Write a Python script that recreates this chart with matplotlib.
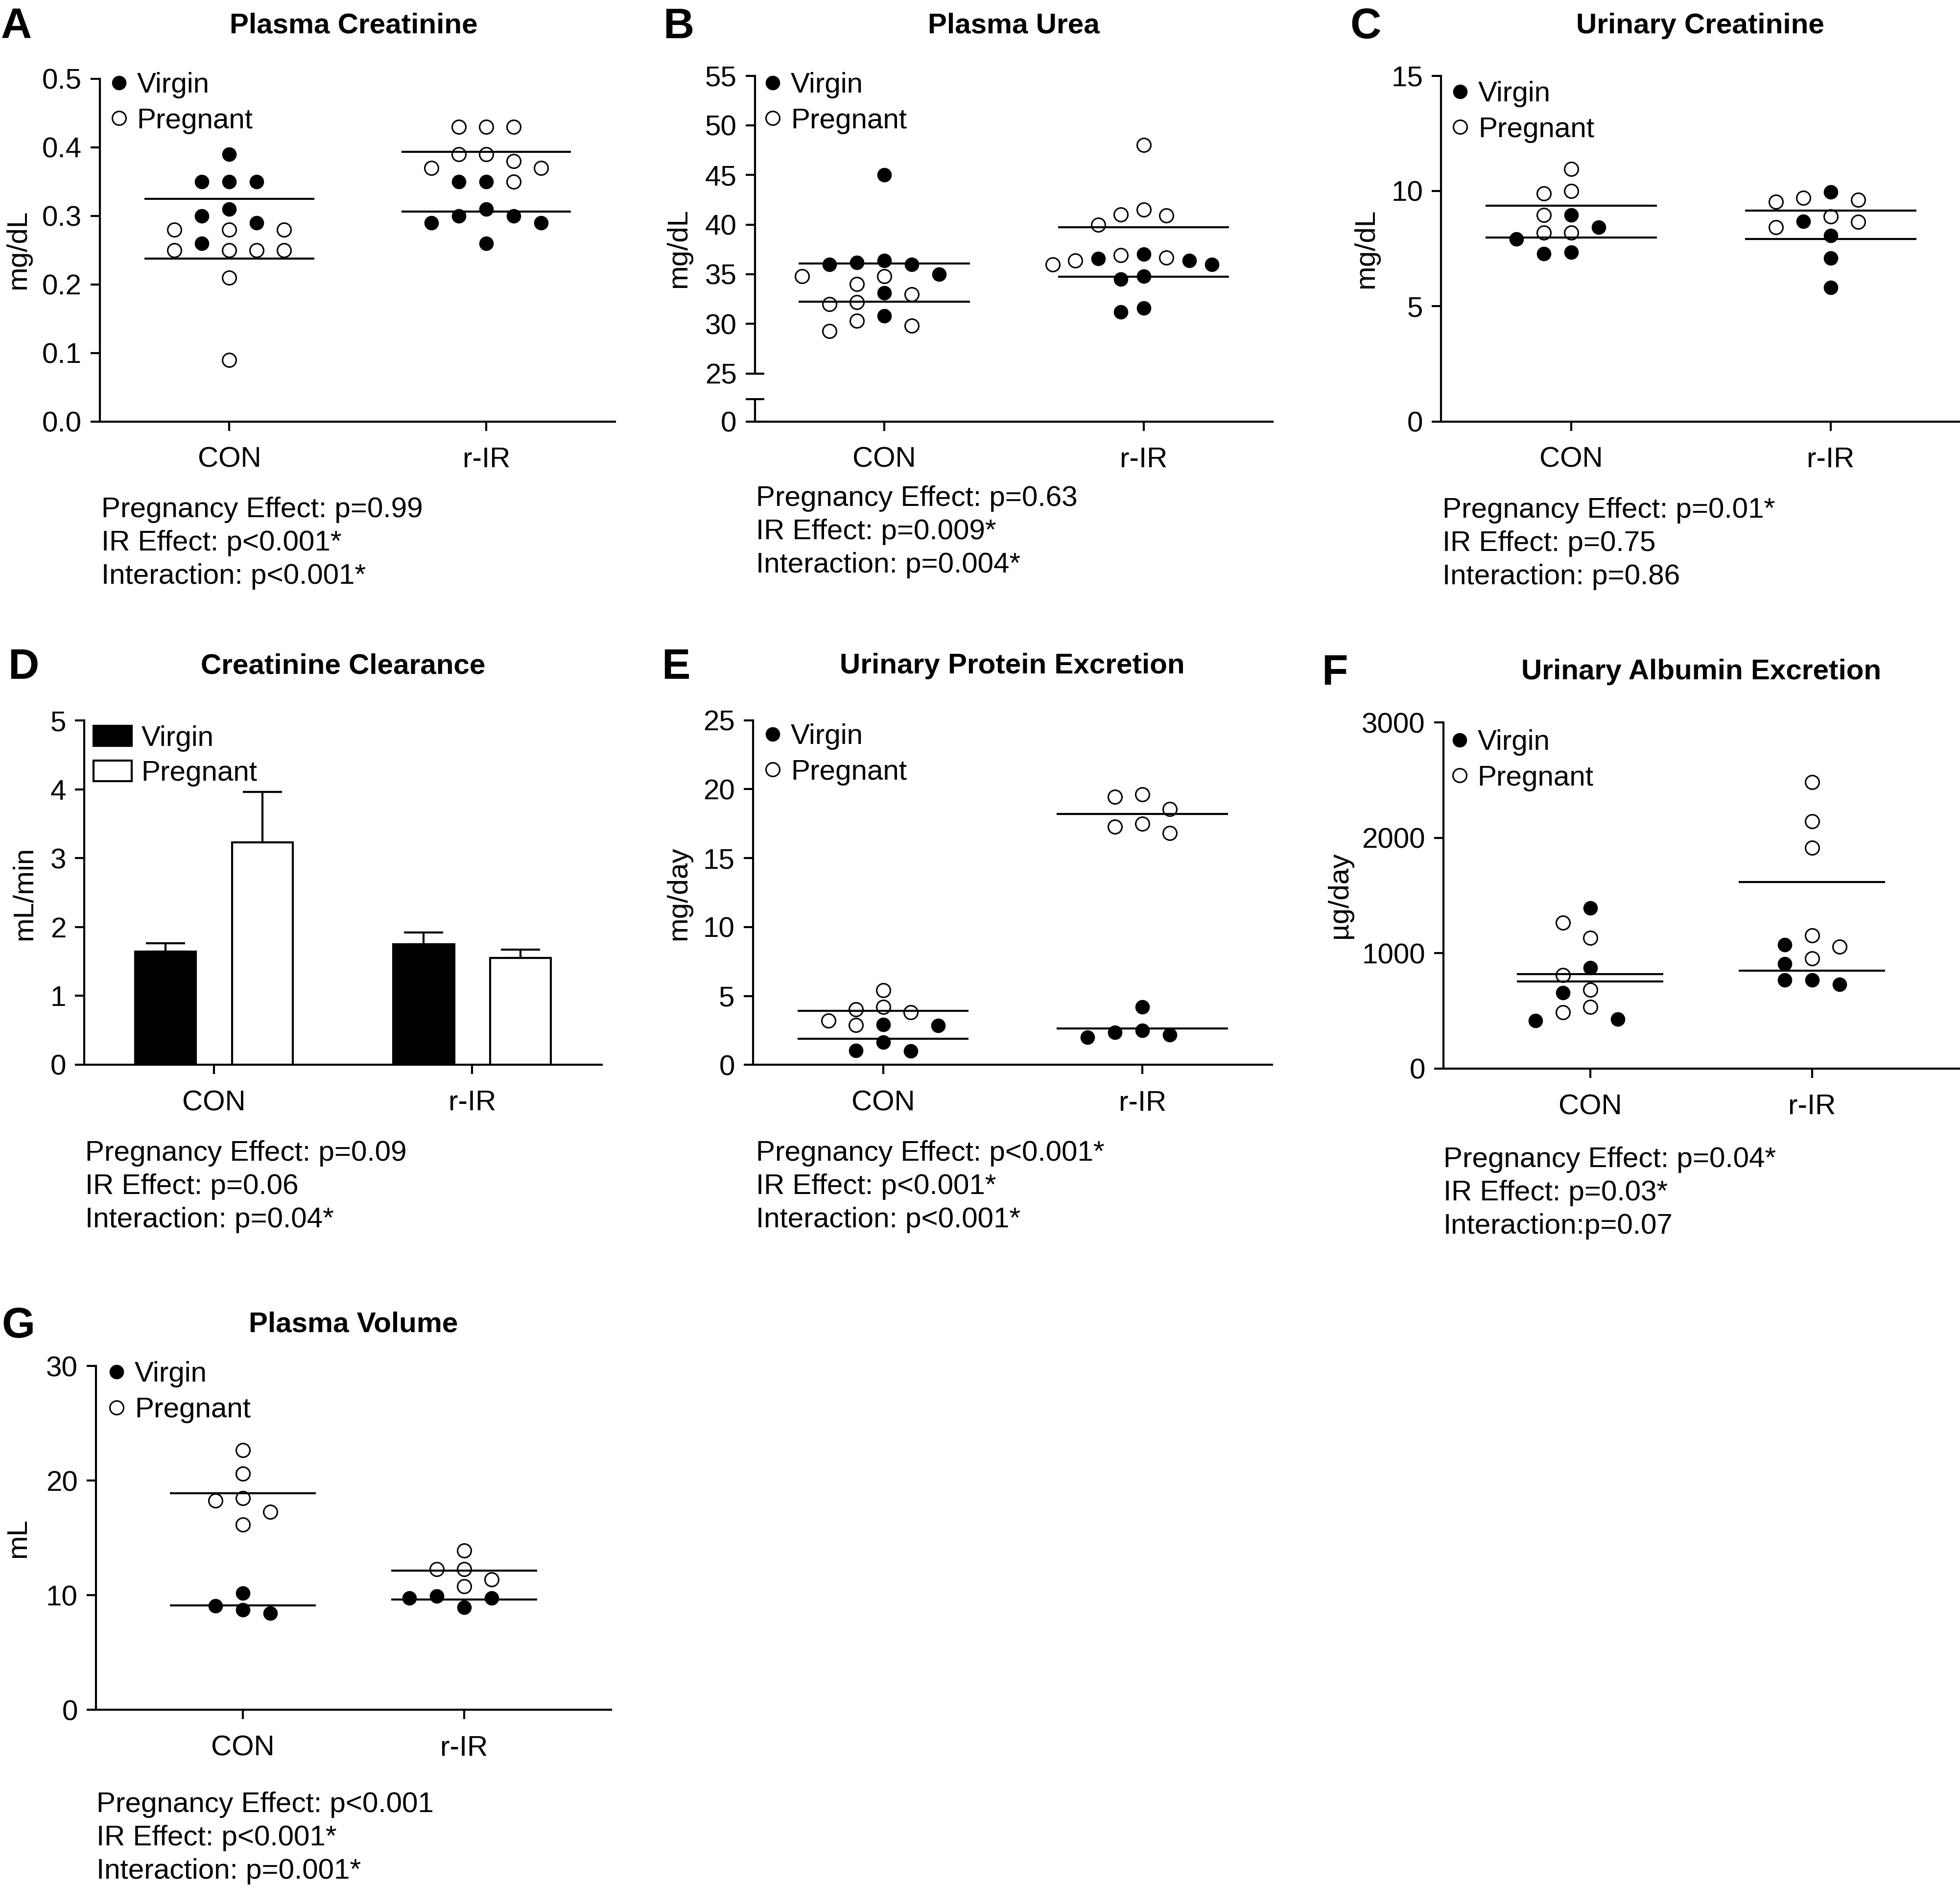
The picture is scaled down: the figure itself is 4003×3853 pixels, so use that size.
import numpy as np
import matplotlib
matplotlib.use("Agg")
import matplotlib.pyplot as plt
from matplotlib.lines import Line2D
from matplotlib.patches import Patch

plt.rcParams['font.family'] = ['Liberation Sans', 'DejaVu Sans']
plt.rcParams['axes.linewidth'] = 1.0

W, H, DPI = 4003, 3853, 300
PX = DPI / 72.0          # pixels per point
FS = 14.0                # main font size (pt)
MS = 6.7                 # marker size (pt)

# ---------------- data ----------------
groups = ['CON', 'r-IR']
status = ['Virgin', 'Pregnant']

# A  Plasma Creatinine (mg/dL)
creat_con_virgin = [0.39, 0.35, 0.35, 0.35, 0.31, 0.30, 0.29, 0.26]
creat_con_preg = [0.28, 0.28, 0.28, 0.25, 0.25, 0.25, 0.25, 0.21, 0.09]
creat_rir_virgin = [0.35, 0.35, 0.31, 0.30, 0.30, 0.29, 0.29, 0.26]
creat_rir_preg = [0.43, 0.43, 0.43, 0.39, 0.39, 0.38, 0.37, 0.37, 0.35]

# B  Plasma Urea (mg/dL)
urea_con_virgin = [45.0, 36.4, 36.2, 36.0, 36.0, 35.0, 33.1, 30.8]
urea_con_preg = [34.8, 34.8, 34.0, 33.0, 32.2, 32.0, 30.3, 29.8, 29.3]
urea_rir_virgin = [37.0, 36.6, 36.4, 36.0, 34.8, 34.5, 31.6, 31.2]
urea_rir_preg = [48.0, 41.5, 41.0, 40.9, 40.0, 36.9, 36.7, 36.4, 36.0]

# C  Urinary Creatinine (mg/dL)
ucreat_con_virgin = [8.95, 8.42, 7.92, 7.35, 7.28]
ucreat_con_preg = [10.95, 10.0, 9.9, 8.95, 8.18, 8.18]
ucreat_rir_virgin = [9.95, 8.67, 8.07, 7.08, 5.82]
ucreat_rir_preg = [9.7, 9.62, 9.53, 8.9, 8.65, 8.42]

# D  Creatinine Clearance (mL/min), mean and SEM for CON, r-IR
clear_virgin_mean = [1.64, 1.75]
clear_virgin_sem = [0.12, 0.17]
clear_preg_mean = [3.23, 1.55]
clear_preg_sem = [0.73, 0.12]

# E  Urinary Protein Excretion (mg/day)
prot_con_virgin = [2.94, 2.85, 1.66, 1.03, 1.00]
prot_con_preg = [5.42, 4.20, 4.02, 3.80, 3.22, 2.88]
prot_rir_virgin = [4.20, 2.51, 2.37, 2.17, 2.00]
prot_rir_preg = [19.63, 19.43, 18.55, 17.49, 17.29, 16.81]

# F  Urinary Albumin Excretion (ug/day)
alb_con_virgin = [1392, 874, 655, 427, 416]
alb_con_preg = [1263, 1133, 809, 683, 532, 485]
alb_rir_virgin = [1072, 908, 768, 768, 730]
alb_rir_preg = [2485, 2143, 1915, 1154, 1058, 956]

# G  Plasma Volume (mL)
pv_con_virgin = [10.18, 9.07, 8.73, 8.43]
pv_con_preg = [22.64, 20.62, 18.47, 18.24, 17.27, 16.16]
pv_rir_virgin = [9.94, 9.77, 9.77, 8.94]
pv_rir_preg = [13.9, 12.29, 12.29, 11.39, 10.78]

stats_a = ['Pregnancy Effect: p=0.99', 'IR Effect: p<0.001*', 'Interaction: p<0.001*']
stats_b = ['Pregnancy Effect: p=0.63', 'IR Effect: p=0.009*', 'Interaction: p=0.004*']
stats_c = ['Pregnancy Effect: p=0.01*', 'IR Effect: p=0.75', 'Interaction: p=0.86']
stats_d = ['Pregnancy Effect: p=0.09', 'IR Effect: p=0.06', 'Interaction: p=0.04*']
stats_e = ['Pregnancy Effect: p<0.001*', 'IR Effect: p<0.001*', 'Interaction: p<0.001*']
stats_f = ['Pregnancy Effect: p=0.04*', 'IR Effect: p=0.03*', 'Interaction:p=0.07']
stats_g = ['Pregnancy Effect: p<0.001', 'IR Effect: p<0.001*', 'Interaction: p=0.001*']

# ---------------- helpers ----------------
fig = plt.figure(figsize=(W / DPI, H / DPI), dpi=DPI)


def make_ax(left, right, top, bottom):
    return fig.add_axes([left / W, 1 - bottom / H, (right - left) / W, (bottom - top) / H])


def xlims(left, right, con, rir):
    unit = rir - con
    return ((left - con) / unit, (right - con) / unit)


def style(ax):
    ax.spines['top'].set_visible(False)
    ax.spines['right'].set_visible(False)
    ax.tick_params(direction='out', length=19 / PX, width=1.0, labelsize=FS)
    ax.tick_params(axis='y', pad=4.3)
    ax.tick_params(axis='x', pad=7.8)
    ax.set_xticks([0, 1], groups)


def ylabel(ax, text, x, y):
    ax.set_ylabel(text, fontsize=FS, va='center', ha='center')
    ax.yaxis.set_label_coords(x / W, 1 - y / H, transform=fig.transFigure)


def swarm_x(ax, xc, values, spacing_px, dy_px=31.0):
    trans = ax.transData
    x0 = trans.transform((xc, 0))[0]
    ux = trans.transform((xc + 1, 0))[0] - x0
    allv = [(v, g, i) for g, arr in enumerate(values) for i, v in enumerate(arr)]
    order = sorted(range(len(allv)), key=lambda k: -allv[k][0])
    half = spacing_px / 2.0
    cands = [0.0]
    for k in range(1, 40):
        cands += [-k * half, k * half]
    placed = []
    out = [np.zeros(len(a)) for a in values]
    for k in order:
        v, g, i = allv[k]
        ypx = trans.transform((xc, v))[1]
        chosen = 0.0
        for c in cands:
            if all(not (abs(c - px) < spacing_px - 0.5 and abs(ypx - py) < dy_px)
                   for px, py in placed):
                chosen = c
                break
        placed.append((chosen, ypx))
        out[g][i] = xc + chosen / ux
    return out


def dot_panel(ax, data, spacings=(56, 56)):
    for xc, (v, p), sp in zip([0, 1], data, spacings):
        xv, xp = swarm_x(ax, xc, [v, p], sp)
        ax.plot(xv, v, 'o', ms=MS, mfc='k', mec='k', mew=0.4, ls='none',
                clip_on=False, zorder=3)
        ax.plot(xp, p, 'o', ms=MS, mfc='none', mec='k', mew=0.75, ls='none',
                clip_on=False, zorder=3)
        for arr in (v, p):
            ax.hlines(np.mean(arr), xc - 0.33, xc + 0.33, colors='k', lw=1.0, zorder=2)


def dot_legend(ax, mx, row1y):
    hl = 0.5
    fs_px = FS * PX
    h = [Line2D([], [], marker='o', ls='none', ms=MS, mfc='k', mec='k', mew=0.4),
         Line2D([], [], marker='o', ls='none', ms=MS, mfc='none', mec='k', mew=0.75)]
    ax.legend(h, status, loc='upper left',
              bbox_to_anchor=((mx - hl * fs_px / 2) / W, 1 - (row1y - 21.5) / H),
              bbox_transform=fig.transFigure, frameon=False, borderpad=0,
              borderaxespad=0, handlelength=hl, handletextpad=0.38,
              labelspacing=0.32, fontsize=FS)


def stats(lines, x, y0, step=68):
    for k, s in enumerate(lines):
        fig.text(x / W, 1 - (y0 + k * step) / H, s, fontsize=FS, ha='left', va='baseline')


def title(text, cx, base):
    fig.text(cx / W, 1 - base / H, text, fontsize=14, weight='bold', ha='center', va='baseline')


def letter(text, x, base):
    fig.text(x / W, 1 - base / H, text, fontsize=21, weight='bold', ha='left', va='baseline')


# ---------------- A ----------------
L, R, CN, RI, T, B = 204, 1256, 468.4, 993.2, 160.8, 860.5
ax = make_ax(L, R, T, B)
style(ax)
ax.set_xlim(*xlims(L, R, CN, RI))
ax.set_ylim(0, 0.5)
ax.set_yticks(np.arange(0, 0.51, 0.1), ['0.0', '0.1', '0.2', '0.3', '0.4', '0.5'])
dot_panel(ax, [(creat_con_virgin, creat_con_preg), (creat_rir_virgin, creat_rir_preg)])
dot_legend(ax, 243, 168.7)
ylabel(ax, 'mg/dL', 37, 510)
title('Plasma Creatinine', 722, 68)
letter('A', 2, 78)
stats(stats_a, 207, 1056)

# ---------------- B (broken axis) ----------------
L, R, CN, RI = 1541.5, 2599, 1806.2, 2335.7
axb = make_ax(L, R, 154.5, 762.7)
style(axb)
axb.spines['bottom'].set_visible(False)
axb.tick_params(axis='x', bottom=False, labelbottom=False)
axb.set_xlim(*xlims(L, R, CN, RI))
axb.set_ylim(25, 55)
axb.set_yticks([30, 35, 40, 45, 50, 55])
axb.set_yticks([25], ['25'], minor=True)
axb.tick_params(axis='y', which='minor', direction='inout', length=2 * 19 / PX,
                width=1.0, labelsize=FS, pad=4.3)
dot_panel(axb, [(urea_con_virgin, urea_con_preg), (urea_rir_virgin, urea_rir_preg)],
          spacings=(56, 46.5))
dot_legend(axb, 1578, 168.7)
ylabel(axb, 'mg/dL', 1386, 507)

axb0 = make_ax(L, R, 815, 860.5)
style(axb0)
axb0.set_xlim(*xlims(L, R, CN, RI))
axb0.set_ylim(0, 1)
axb0.set_yticks([0, 1], ['0', ''])
axb0.tick_params(axis='y', direction='inout', length=2 * 19 / PX)
title('Plasma Urea', (L + R) / 2, 68)
letter('B', 1354, 78)
stats(stats_b, 1544, 1033)

# ---------------- C ----------------
L, R, CN, RI, T, B = 2943.4, 4002, 3209.1, 3738.9, 154.5, 860.5
ax = make_ax(L, R, T, B)
style(ax)
ax.set_xlim(*xlims(L, R, CN, RI))
ax.set_ylim(0, 15)
ax.set_yticks([0, 5, 10, 15])
dot_panel(ax, [(ucreat_con_virgin, ucreat_con_preg), (ucreat_rir_virgin, ucreat_rir_preg)])
dot_legend(ax, 2982, 186.7)
ylabel(ax, 'mg/dL', 2790, 508)
title('Urinary Creatinine', (L + R) / 2, 68)
letter('C', 2757, 78)
stats(stats_c, 2946, 1057)

# ---------------- D (bars) ----------------
L, R, CN, RI, T, B = 172, 1228.5, 436.9, 964.2, 1471.3, 2173.6
ax = make_ax(L, R, T, B)
style(ax)
ax.set_xlim(*xlims(L, R, CN, RI))
ax.set_ylim(0, 5)
ax.set_yticks([0, 1, 2, 3, 4, 5])
xpos = np.arange(len(groups))
off, bw = 0.1875, 0.236
ax.bar(xpos - off, clear_virgin_mean, bw, color='k', edgecolor='k', lw=1.0, zorder=2)
ax.bar(xpos + off, clear_preg_mean, bw, color='w', edgecolor='k', lw=1.0, zorder=2)
ax.errorbar(xpos - off, clear_virgin_mean, yerr=[np.zeros(2), clear_virgin_sem], fmt='none',
            ecolor='k', elinewidth=1.0, capsize=9.5, capthick=1.0, zorder=1)
ax.errorbar(xpos + off, clear_preg_mean, yerr=[np.zeros(2), clear_preg_sem], fmt='none',
            ecolor='k', elinewidth=1.0, capsize=9.5, capthick=1.0, zorder=1)
hb = [Patch(facecolor='k', edgecolor='k', lw=1.0), Patch(facecolor='w', edgecolor='k', lw=1.0)]
ax.legend(hb, status, loc='upper left', bbox_to_anchor=(190.7 / W, 1 - 1481 / H),
          bbox_transform=fig.transFigure, frameon=False, borderpad=0, borderaxespad=0,
          handlelength=1.35, handleheight=0.72, handletextpad=0.33, labelspacing=0.3,
          fontsize=FS)
ylabel(ax, 'mL/min', 50, 1824)
title('Creatinine Clearance', (L + R) / 2, 1375)
letter('D', 16, 1386)
stats(stats_d, 174, 2370)

# ---------------- E ----------------
L, R, CN, RI, T, B = 1537.6, 2598, 1803.7, 2333.2, 1470.5, 2174.4
ax = make_ax(L, R, T, B)
style(ax)
ax.set_xlim(*xlims(L, R, CN, RI))
ax.set_ylim(0, 25)
ax.set_yticks([0, 5, 10, 15, 20, 25])
dot_panel(ax, [(prot_con_virgin, prot_con_preg), (prot_rir_virgin, prot_rir_preg)])
dot_legend(ax, 1578, 1498.6)
ylabel(ax, 'mg/day', 1386, 1824)
title('Urinary Protein Excretion', (L + R) / 2, 1375)
letter('E', 1351, 1386)
stats(stats_e, 1544, 2370)

# ---------------- F ----------------
L, R, CN, RI, T, B = 2947.7, 4002, 3247.9, 3700.9, 1475.3, 2181.6
ax = make_ax(L, R, T, B)
style(ax)
ax.set_xlim(*xlims(L, R, CN, RI))
ax.set_ylim(0, 3000)
ax.set_yticks([0, 1000, 2000, 3000])
dot_panel(ax, [(alb_con_virgin, alb_con_preg), (alb_rir_virgin, alb_rir_preg)])
dot_legend(ax, 2980.5, 1510.6)
ylabel(ax, 'µg/day', 2736, 1828)
title('Urinary Albumin Excretion', (L + R) / 2, 1387)
letter('F', 2699, 1398)
stats(stats_f, 2948, 2383)

# ---------------- G ----------------
L, R, CN, RI, T, B = 195.7, 1247.7, 495.8, 947.6, 2789.1, 3491.3
ax = make_ax(L, R, T, B)
style(ax)
ax.set_xlim(*xlims(L, R, CN, RI))
ax.set_ylim(0, 30)
ax.set_yticks([0, 10, 20, 30])
dot_panel(ax, [(pv_con_virgin, pv_con_preg), (pv_rir_virgin, pv_rir_preg)])
dot_legend(ax, 238, 2800.9)
ylabel(ax, 'mL', 37, 3140)
title('Plasma Volume', (L + R) / 2, 2720)
letter('G', 3, 2731)
stats(stats_g, 197, 3700)

fig.savefig('out.png', dpi=DPI, facecolor='white')
